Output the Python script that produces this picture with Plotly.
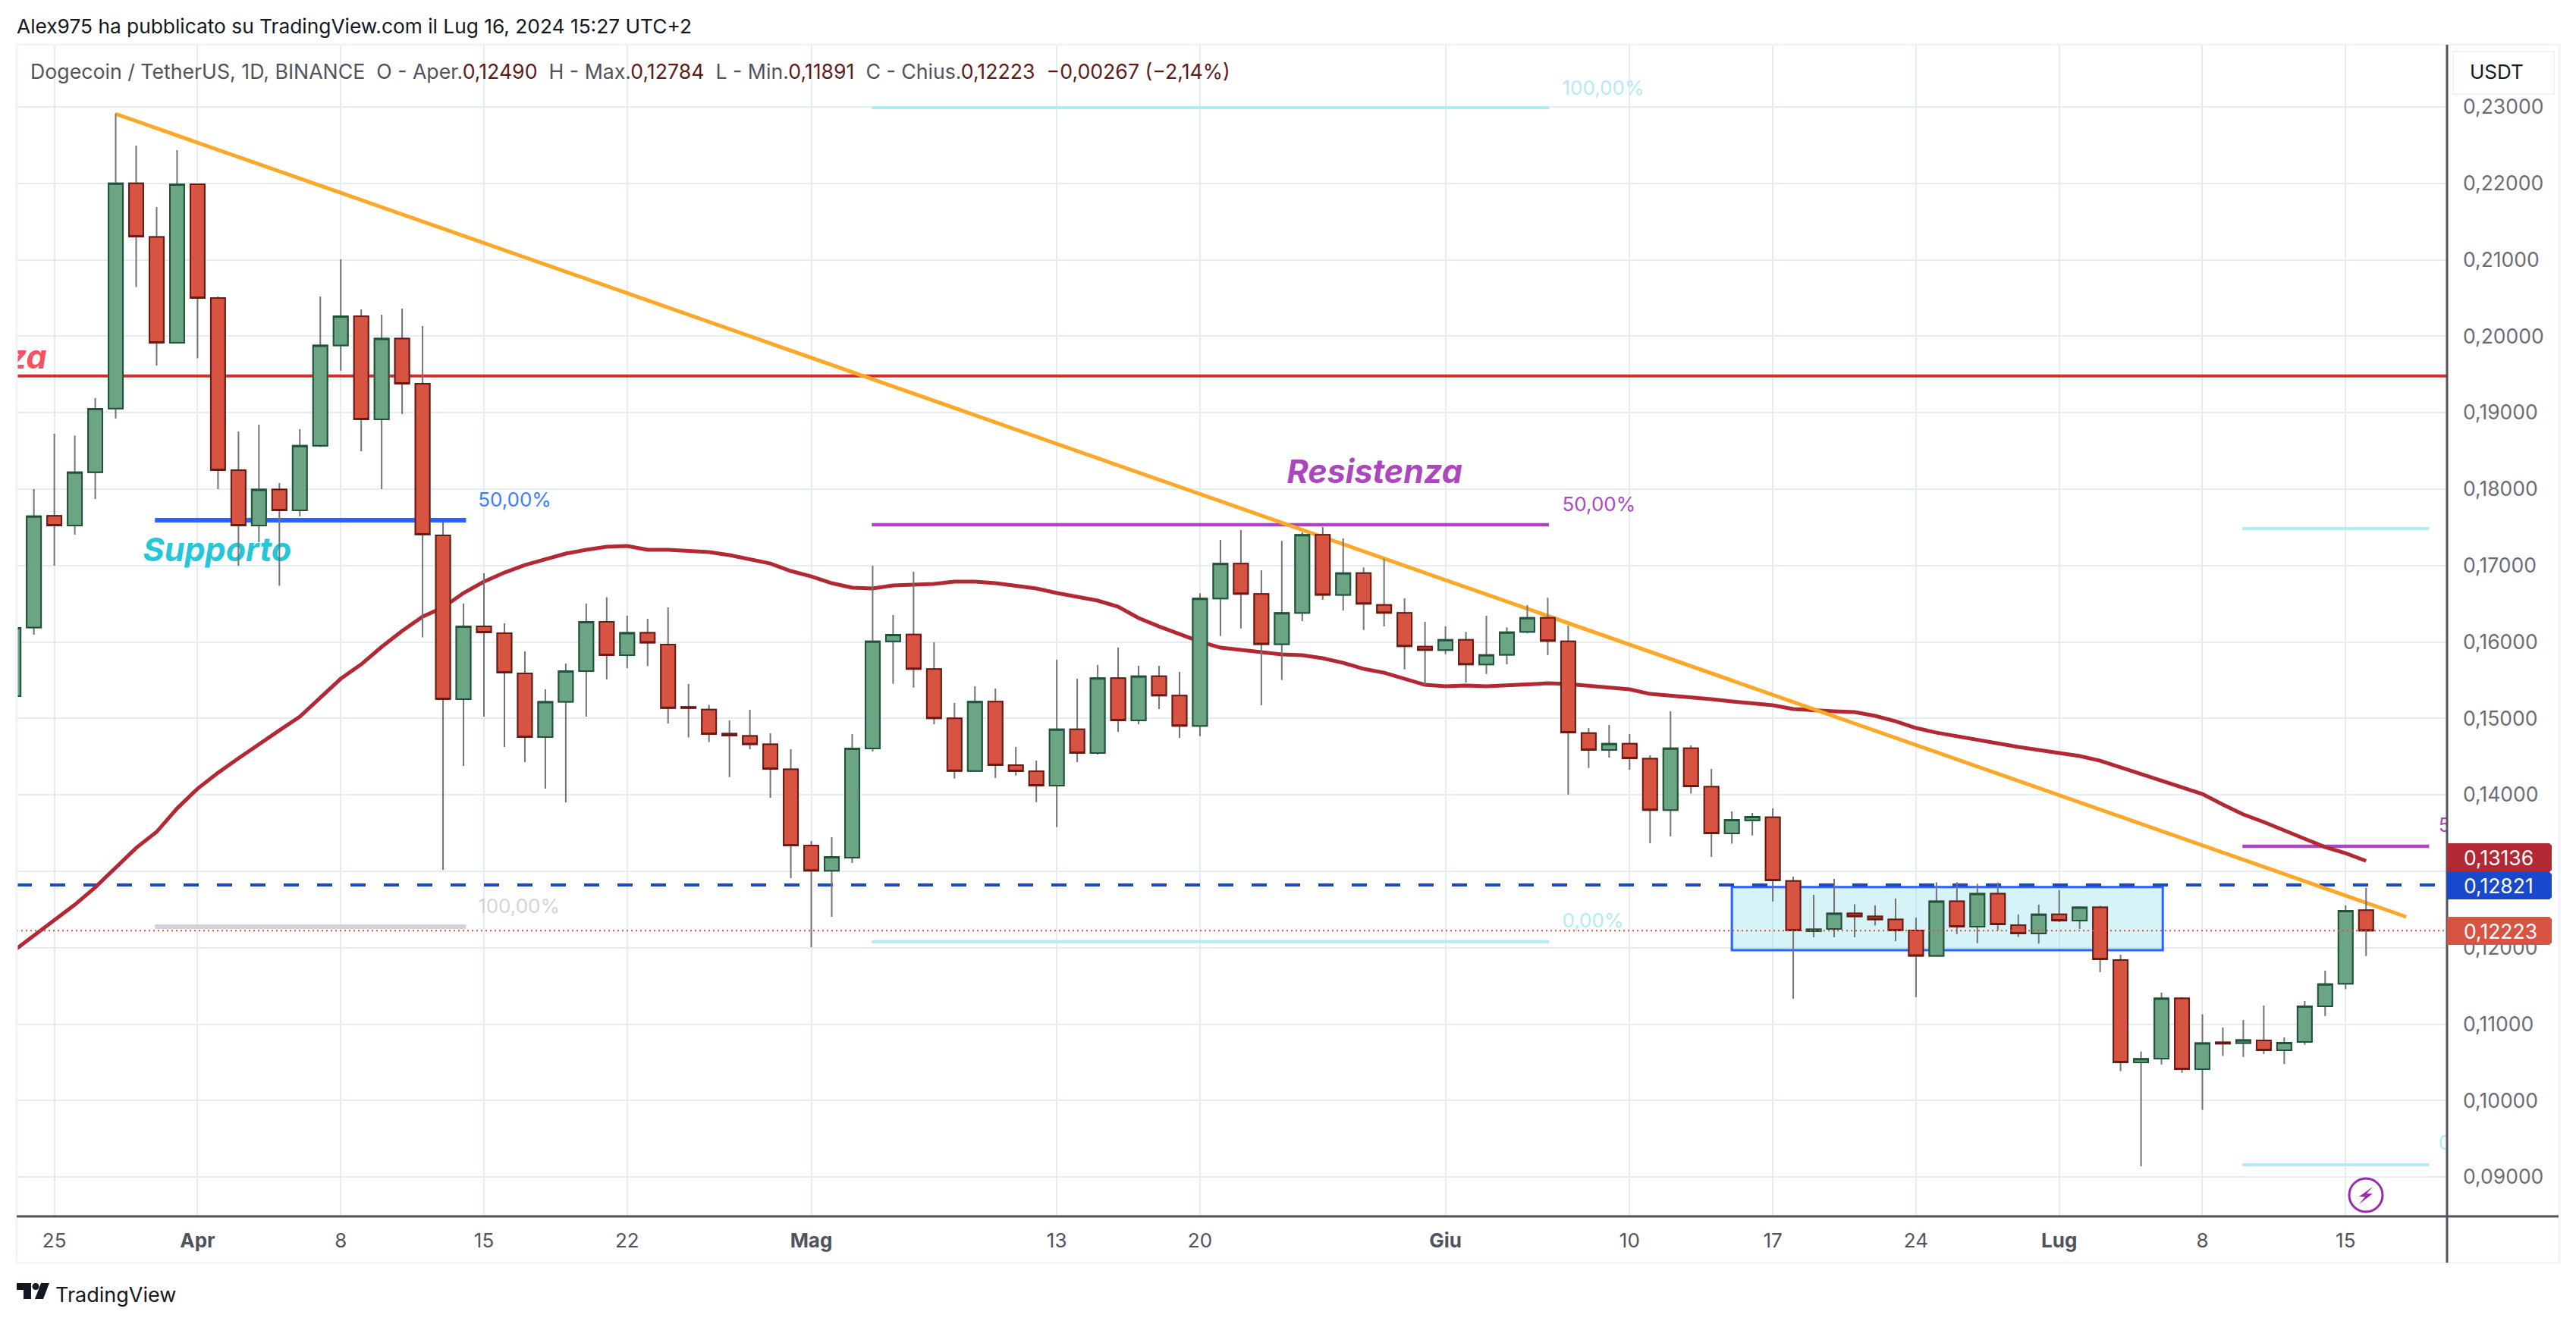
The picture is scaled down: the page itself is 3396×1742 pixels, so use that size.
import pandas as pd
import plotly.graph_objects as go

# ---------- data ----------
first_day = "2024-03-23"
opens = [.15291,.16188,.1765,.17523,.18221,.19055,.22,.21298,.19914,.21988,.205,.18248,.17523,.17995,.17722,.18569,.19881,.20262,.18912,.1997,
 .19379,.17394,.15251,.16204,.16114,.15589,.14755,.15216,.15618,.16263,.15827,.1612,.15966,.1515,.15116,.148,.14771,.14662,.14333,.13337,
 .13008,.13177,.14606,.16008,.16097,.15645,.15,.14312,.15219,.14388,.14309,.1412,.14857,.14547,.15526,.14973,.15552,.15298,.14901,.16568,
 .17024,.16627,.15972,.1638,.17401,.16617,.16901,.16484,.1638,.15939,.15893,.16028,.15705,.15833,.16131,.16316,.16008,.14808,.14586,.14668,
 .14473,.138,.1461,.14105,.13495,.13667,.13707,.12874,.12215,.12245,.12448,.12408,.12369,.12225,.11894,.12608,.12275,.12706,.12294,.12185,
 .12436,.12354,.12529,.11838,.10499,.10548,.11337,.1041,.10761,.10753,.10787,.10657,.10767,.11233,.11528,.12490]
highs = [.1625,.18,.18724,.18699,.1919,.2291,.22494,.2169,.22434,.2199,.2052,.18754,.18843,.18079,.18783,.2052,.21006,.20351,.20281,.20361,
 .20133,.17563,.16501,.16898,.16243,.15876,.1538,.15718,.16501,.16585,.16342,.16303,.16452,.1545,.15176,.14973,.15112,.14805,.14597,.13396,
 .13445,.14794,.16997,.16352,.16918,.15995,.15202,.1542,.1539,.14626,.14448,.15767,.15519,.15701,.15926,.15688,.15688,.15608,.16637,.17335,
 .17464,.16938,.17322,.17437,.17503,.17354,.16975,.1709,.16571,.16263,.16204,.16131,.16342,.16191,.16481,.16578,.16214,.14874,.14914,.14795,
 .14517,.15093,.14646,.1434,.13783,.13763,.13822,.12931,.12691,.129,.12568,.12552,.12644,.12394,.12856,.12856,.12835,.12853,.12436,.12563,
 .12751,.12542,.12547,.11907,.10642,.11412,.11352,.11129,.10955,.11055,.11243,.10827,.11303,.11699,.12552,.12784]
lows = [.152,.16094,.16997,.17404,.1787,.18922,.20643,.19617,.1991,.19711,.18,.16997,.17305,.16735,.17646,.1855,.19551,.18496,.18,.18982,
 .16059,.13019,.14378,.15023,.14626,.14428,.1408,.13902,.15023,.15509,.15658,.15682,.14934,.14751,.1469,.14232,.14597,.13962,.1291,.12007,
 .12403,.13108,.14567,.15453,.15403,.14924,.14212,.143,.1422,.14252,.13905,.13577,.14428,.14527,.14825,.14924,.15122,.14745,.14768,.16078,
 .16177,.15172,.15502,.16273,.16551,.16412,.16157,.16204,.15641,.15437,.1584,.1547,.15582,.15708,.16113,.1583,.14004,.14351,.14487,.14328,
 .13366,.13455,.14017,.13187,.13361,.13467,.12604,.11332,.12136,.12136,.12136,.1229,.12086,.11352,.1188,.12179,.12059,.12225,.1214,.12051,
 .12335,.12245,.11679,.10385,.09139,.10473,.10363,.0988,.10584,.10571,.1061,.10479,.1073,.11107,.11456,.11891]
closes = [.16184,.17646,.17523,.18221,.19051,.22,.21305,.19914,.21988,.205,.18248,.17523,.17995,.17722,.18569,.19881,.20262,.18912,.1997,.19379,
 .17404,.15251,.16204,.16124,.15599,.14755,.15216,.15618,.16263,.15827,.1612,.15991,.15135,.15135,.14795,.14775,.14662,.14338,.13337,.13008,
 .13187,.14606,.16008,.16094,.15645,.15,.14312,.15219,.14388,.14309,.1412,.14857,.14547,.15526,.14973,.15552,.15298,.14901,.16568,.17024,
 .16627,.15972,.1638,.17401,.16617,.16901,.16498,.1638,.15943,.15893,.16028,.15705,.1583,.16127,.16316,.16012,.14815,.14586,.14669,.14477,
 .138,.1461,.1411,.13495,.13674,.13713,.1288,.12225,.12241,.12448,.12408,.12369,.12225,.11894,.12608,.12275,.12706,.12304,.12185,.12436,
 .12354,.12529,.11848,.10499,.10545,.11337,.1041,.10753,.10745,.10793,.10657,.10757,.11233,.11523,.12484,.12223]
ma_values = [.11957,.12155,.12354,.12562,.1279,.13048,.13306,.13515,.13822,.1408,.14288,.14477,.14666,.14844,.15023,.15271,.15519,.15707,.15936,.16144,
 .16332,.16451,.1664,.16789,.16908,.17007,.17077,.17156,.17206,.17245,.17255,.17206,.17206,.17196,.17176,.17136,.17077,.17027,.16928,.16858,
 .16769,.1671,.167,.16739,.16749,.16759,.16789,.16789,.16769,.16739,.167,.1664,.1659,.16541,.16461,.16313,.16203,.16104,.16005,.15926,
 .15896,.15866,.15836,.15826,.15787,.15727,.15648,.15598,.15519,.15439,.1542,.1543,.1542,.1543,.15449,.15459,.15449,.1543,.154,.1538,
 .1532,.15301,.15281,.15251,.15221,.15201,.15172,.15122,.15102,.15092,.15082,.15033,.14963,.14874,.14814,.14765,.14725,.14675,.14626,.14586,
 .14546,.14507,.14447,.14358,.14269,.14189,.141,.14011,.13872,.13743,.13644,.13534,.13425,.13316,.13237,.13136]

price_ticks = [.09,.10,.11,.12,.13,.14,.15,.16,.17,.18,.19,.20,.21,.22,.23]
date_ticks = ["2024-03-25","2024-04-01","2024-04-08","2024-04-15","2024-04-22","2024-05-01","2024-05-13","2024-05-20",
              "2024-06-01","2024-06-10","2024-06-17","2024-06-24","2024-07-01","2024-07-08","2024-07-15"]
date_labels = ["25","<b>Apr</b>","8","15","22","<b>Mag</b>","13","20","<b>Giu</b>","10","17","24","<b>Lug</b>","8","15"]

trend_dates = ["2024-03-27 23:30","2024-07-17 23:00"]
trend_prices = [.22911,.12404]
resist_level = .19481
ma_last, dashed_last, close_last = .13136, .12821, .12223
box_dates = ["2024-06-15","2024-07-06 01:30"]
box_prices = [.12793,.11967]

# fib tools: start, end, [(price, colour, width)]
fib_supporto = (["2024-03-29 22:00","2024-04-14 03:00"], [(.17593,"#2962ff",6),(.12275,"#d1d4dc",6)])
fib_resistenza = (["2024-05-03 23:00","2024-06-06 01:30"], [(.2299,"#b2ebf2",4),(.17533,"#ab47bc",4.5),(.1208,"#b2ebf2",4)])
fib_right = (["2024-07-09 23:00","2024-07-19 02:00"], [(.17484,"#b2ebf2",4),(.13326,"#ab47bc",4.5),(.0916,"#b2ebf2",4)])

# text in the plot: label, date, price, colour, size, anchor
plot_texts = [
 ("50,00%","2024-04-14 17:00",.17836,"#3b7dff",26,"middle right"),
 ("100,00%","2024-04-14 17:00",.12517,"#d1d4dc",26,"middle right"),
 ("100,00%","2024-06-06 17:00",.23223,"#b2ebf2",26,"middle right"),
 ("50,00%","2024-06-06 17:00",.17776,"#ab47bc",26,"middle right"),
 ("0,00%","2024-06-06 17:00",.12329,"#b2ebf2",26,"middle right"),
 ("50,00%","2024-07-19 13:00",.13584,"#ab47bc",26,"middle right"),
 ("0,00%","2024-07-19 13:00",.09425,"#b2ebf2",26,"middle right"),
 ("<b><i>Supporto</i></b>","2024-03-29 08:00",.17166,"#26c6da",43,"middle right"),
 ("<b><i>Resistenza</i></b>","2024-05-24 06:00",.18185,"#ab47bc",43,"middle right"),
 ("<b><i>Resistenza</i></b>","2024-03-24 15:00",.19686,"#f7525f",43,"middle left"),
]

# ---------- geometry of the page ----------
W, H = 3396, 1742
L, R, T, B = 22, 3226, 59, 1604
FONT = "Inter, Roboto, sans-serif"
px = lambda v: (v - L) / (R - L)
py = lambda v: (B - v) / (B - T)
X_RANGE = ["2024-03-23 03:50", "2024-07-19 23:00"]
Y_RANGE = [.08485, .23814]
dates = pd.date_range(first_day, periods=len(opens), freq="D")
GRID = "#e3edf3"; AXIS = "#50535e"; TICK = "#6a6d78"
UP, UP_B, DN, DN_B = "#6ba583", "#1e5339", "#d75442", "#6b1a13"

fig = go.Figure()

# ---------- drawings under the candles ----------
for start_end, levels in (fib_supporto, fib_resistenza, fib_right):
    for price, colour, width in levels:
        fig.add_trace(go.Scatter(x=start_end, y=[price, price], mode="lines",
                                 line=dict(color=colour, width=width), hoverinfo="skip"))
fig.add_trace(go.Scatter(x=X_RANGE, y=[resist_level]*2, mode="lines", line=dict(color="#d32f2f", width=4), hoverinfo="skip"))
fig.add_trace(go.Scatter(x=X_RANGE, y=[dashed_last]*2, mode="lines", line=dict(color="#1848cc", width=4, dash="20px,24px"), hoverinfo="skip"))
fig.add_trace(go.Scatter(x=dates, y=ma_values, mode="lines", line=dict(color="#b22833", width=5), hoverinfo="skip"))
fig.add_trace(go.Scatter(x=trend_dates, y=trend_prices, mode="lines", line=dict(color="#ffa726", width=5), hoverinfo="skip"))
for text, d, p, colour, size, pos in plot_texts:
    fig.add_trace(go.Scatter(x=[d], y=[p], mode="text", text=[text], textposition=pos, cliponaxis=True,
                             textfont=dict(color=colour, size=size, family=FONT), hoverinfo="skip"))

# ---------- candles, on an overlaid pair of axes so they sit above the drawings ----------
fig.add_trace(go.Candlestick(x=dates, open=opens, high=highs, low=lows, close=closes,
    xaxis="x2", yaxis="y2", whiskerwidth=0, hoverinfo="skip",
    increasing=dict(line=dict(color="#737373", width=2), fillcolor="#737373"),
    decreasing=dict(line=dict(color="#737373", width=2), fillcolor="#737373")))
fig.add_trace(go.Candlestick(x=dates, open=opens, close=closes,
    high=[max(o, c) for o, c in zip(opens, closes)], low=[min(o, c) for o, c in zip(opens, closes)],
    xaxis="x2", yaxis="y2", whiskerwidth=0, hoverinfo="skip",
    increasing=dict(line=dict(color=UP_B, width=2), fillcolor=UP),
    decreasing=dict(line=dict(color=DN_B, width=2), fillcolor=DN)))

# ---------- shapes ----------
def poly(points):
    return "M " + " L ".join(f"{px(a):.6f} {py(b):.6f}" for a, b in points) + " Z"

shapes = [
    dict(type="rect", xref="x", yref="y", x0=box_dates[0], x1=box_dates[1], y0=box_prices[1], y1=box_prices[0],
         fillcolor="rgba(38,198,218,0.19)", line=dict(color="#2962ff", width=3), layer="between"),
    dict(type="line", xref="paper", yref="y", x0=0, x1=1, y0=close_last, y1=close_last, layer="above",
         line=dict(color="#dc4f3d", width=2, dash="2px,4px")),
    dict(type="rect", xref="paper", yref="paper", x0=px(L), x1=px(3374), y0=py(1665), y1=py(T),
         line=dict(color="#f0f3fa", width=3), layer="above"),
    dict(type="line", xref="paper", yref="paper", x0=px(R), x1=px(R), y0=py(T), y1=py(1665),
         line=dict(color=AXIS, width=3), layer="above"),
    dict(type="line", xref="paper", yref="paper", x0=px(L), x1=px(3373), y0=py(B), y1=py(B),
         line=dict(color=AXIS, width=3), layer="above"),
    # USDT button
    dict(type="rect", xref="paper", yref="paper", x0=px(3234), x1=px(3367), y0=py(124), y1=py(68),
         fillcolor="white", line=dict(color="#f0f3fa", width=2), layer="above"),
    # lightning icon
    dict(type="circle", xref="paper", yref="paper", x0=px(3097), x1=px(3141), y0=py(1598), y1=py(1554),
         fillcolor="white", line=dict(color="#9c27b0", width=3), layer="above"),
    dict(type="path", xref="paper", yref="paper", fillcolor="#9c27b0", layer="above", line=dict(width=0),
         path=poly([(3128,1565),(3110,1578),(3118,1578),(3110,1588),(3128,1574),(3120,1574)])),
    # logo
    dict(type="path", xref="paper", yref="paper", fillcolor="#131722", layer="above", line=dict(width=0),
         path=poly([(22,1692),(41,1692),(41,1713),(31,1713),(31,1701),(22,1701)])),
    dict(type="circle", xref="paper", yref="paper", fillcolor="#131722", layer="above", line=dict(width=0),
         x0=px(42.5), x1=px(51.5), y0=py(1701), y1=py(1692)),
    dict(type="path", xref="paper", yref="paper", fillcolor="#131722", layer="above", line=dict(width=0),
         path=poly([(54,1692),(65,1692),(57,1713),(46,1713)])),
]
tags = [(1112, 1150, "#b22833", ma_last), (1150, 1186, "#1848cc", dashed_last), (1209, 1246, "#d75442", close_last)]
annotations = []
for top, bottom, colour, value in tags:
    shapes.append(dict(type="path", xref="paper", yref="paper", fillcolor=colour, layer="above", line=dict(width=0),
                       path=poly([(R, top), (3361, top), (3364, top+3), (3364, bottom-3), (3361, bottom), (R, bottom)])))
    annotations.append(dict(xref="paper", yref="paper", x=px(3247), y=py((top+bottom)/2), xanchor="left", yanchor="middle",
                            text=f"{value:.5f}".replace(".", ","), showarrow=False, borderpad=0,
                            font=dict(color="white", size=26.5, family=FONT)))

def note(text, x, y, size, colour):
    annotations.append(dict(xref="paper", yref="paper", x=px(x), y=py(y), xanchor="left", yanchor="middle",
                            text=text, showarrow=False, borderpad=0, font=dict(color=colour, size=size, family=FONT)))

VAL = "#5e1c16"
def v(s):
    return f'<span style="color:{VAL}">{s}</span>'
note("Alex975 ha pubblicato su TradingView.com il Lug 16, 2024 15:27 UTC+2", 21, 35, 26.3, "#131722")
note("Dogecoin / TetherUS, 1D, BINANCE  O - Aper." + v("0,12490") + "  H - Max." + v("0,12784")
     + "  L - Min." + v("0,11891") + "  C - Chius." + v("0,12223") + "  " + v("\u22120,00267 (\u22122,14%)"), 39, 94, 26.7, AXIS)
note("USDT", 3255, 95, 26, "#131722")
note("TradingView", 72, 1707, 27, "#131722")

# ---------- layout ----------
fig.update_layout(
    width=W, height=H, autosize=False, showlegend=False, paper_bgcolor="white", plot_bgcolor="white",
    margin=dict(l=L, r=W-R, t=T, b=H-B, pad=0, autoexpand=False),
    separators=",.", boxgap=0.3, boxgroupgap=0, boxmode="overlay",
    xaxis=dict(type="date", range=X_RANGE, tickmode="array", tickvals=date_ticks, ticktext=date_labels,
               showgrid=True, gridcolor=GRID, gridwidth=2, zeroline=False, showline=False, ticks="",
               tickfont=dict(family=FONT, size=26, color=AXIS), ticklabelstandoff=14, rangeslider=dict(visible=False)),
    yaxis=dict(range=Y_RANGE, side="right", tickmode="array", tickvals=price_ticks, tickformat=".5f",
               showgrid=True, gridcolor=GRID, gridwidth=2, zeroline=False, showline=False, ticks="",
               tickfont=dict(family=FONT, size=26.5, color=TICK), ticklabelstandoff=20),
    xaxis2=dict(type="date", range=X_RANGE, overlaying="x", anchor="y2", visible=False, rangeslider=dict(visible=False)),
    yaxis2=dict(range=Y_RANGE, overlaying="y", anchor="x2", visible=False),
    shapes=shapes, annotations=annotations,
)

fig.write_html("out.html", config={"displayModeBar": False},
               post_script="document.body.style.margin='0';document.body.style.overflow='hidden';")
